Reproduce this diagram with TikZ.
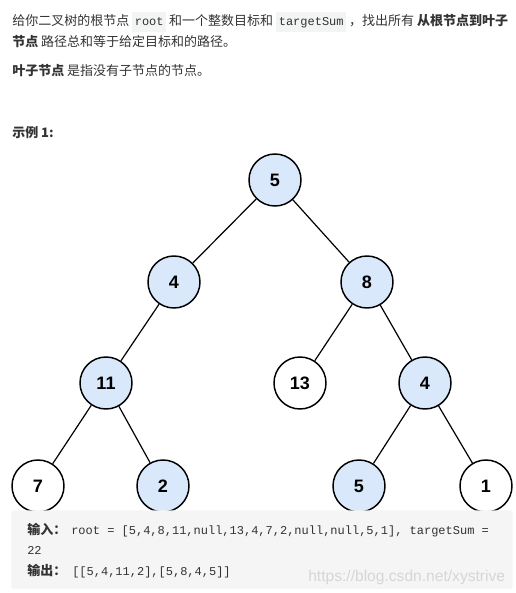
\documentclass[tikz,border=0pt]{standalone}
\usepackage{fontspec}
\setmainfont{Noto Sans CJK SC}
\setmonofont{Liberation Mono}
\newfontfamily\numfont{Liberation Sans}
\usepackage{xcolor}
\usepackage{tikz}
\usetikzlibrary{positioning}
\definecolor{nodeblue}{HTML}{DAE8FC}
\definecolor{codebg}{HTML}{F3F4F4}
\definecolor{boxbg}{HTML}{F5F5F5}
\definecolor{txtgray}{HTML}{333333}
\definecolor{wmgray}{HTML}{D6D6D6}
\newcommand{\inlinecode}[1]{{\setlength{\fboxsep}{2pt}\colorbox{codebg}{\ttfamily\fontsize{9}{11}\selectfont\strut #1}}}
\tikzstyle{treenode} = [circle, draw=black, line width=1.1pt, minimum size=39pt, inner sep=0pt, fill=white, font=\numfont\bfseries\fontsize{13.5}{16}\selectfont]
\tikzstyle{pathnode} = [treenode, fill=nodeblue]
\tikzstyle{edge} = [line width=0.9pt]
\tikzstyle{para} = [anchor=base west, inner sep=0pt, text=txtgray, font=\fontsize{9.75}{12}\selectfont]
\tikzstyle{codeline} = [anchor=base west, inner sep=0pt, text=txtgray, font=\ttfamily\fontsize{9}{11}\selectfont]

\begin{document}
\begin{tikzpicture}[x=0.75pt, y=-0.75pt]
    \useasboundingbox (0,0) rectangle (516,593);

    % problem text
    \node (line1) [para] at (12,25) {给你二叉树的根节点 \inlinecode{root} 和一个整数目标和 \inlinecode{targetSum} ，找出所有 \textbf{从根节点到叶子}};
    \node (line2) [para] at (12,46) {\textbf{节点} 路径总和等于给定目标和的路径。};
    \node (leafdef) [para] at (12,75) {\textbf{叶子节点} 是指没有子节点的节点。};
    \node (example) [para] at (12,137) {\textbf{示例 1:}};

    % tree
    \node (root) [pathnode] at (275,180) {5};
    \node (n4) [pathnode] at (174,282) {4};
    \node (n8) [pathnode] at (367,282) {8};
    \node (n11) [pathnode] at (106,383) {11};
    \node (n13) [treenode] at (300,383) {13};
    \node (n4b) [pathnode] at (425,383) {4};
    \node (n7) [treenode] at (38,486) {7};
    \node (n2) [pathnode] at (163,486) {2};
    \node (n5) [pathnode] at (359,486) {5};
    \node (n1) [treenode] at (486,486) {1};

    \draw [edge] (root) -- (n4);
    \draw [edge] (root) -- (n8);
    \draw [edge] (n4) -- (n11);
    \draw [edge] (n8) -- (n13);
    \draw [edge] (n8) -- (n4b);
    \draw [edge] (n11) -- (n7);
    \draw [edge] (n11) -- (n2);
    \draw [edge] (n4b) -- (n5);
    \draw [edge] (n4b) -- (n1);

    % input / output box
    \node (box) [fill=boxbg, rounded corners=2pt, anchor=north west, minimum width=376pt, minimum height=59pt, inner sep=0pt] at (11,510) {};
    \node (inlabel) [para] at (27,534) {\textbf{输入：}};
    \node (incode) [codeline] at (71,534) {root = [5,4,8,11,null,13,4,7,2,null,null,5,1], targetSum =};
    \node (incode2) [codeline] at (27,554) {22};
    \node (outlabel) [para] at (27,575) {\textbf{输出：}};
    \node (outcode) [codeline] at (72,575) {[[5,4,11,2],[5,8,4,5]]};
    \node (watermark) [anchor=base west, inner sep=0pt, text=wmgray, font=\numfont\fontsize{11.7}{14}\selectfont] at (308,581) {https://blog.csdn.net/xystrive};
\end{tikzpicture}
\end{document}
